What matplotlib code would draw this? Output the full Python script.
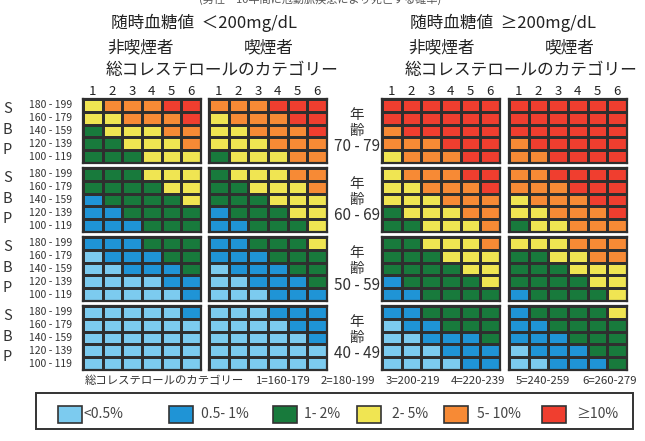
import numpy as np
import matplotlib
matplotlib.use("Agg")
import matplotlib.pyplot as plt
from matplotlib.colors import ListedColormap, BoundaryNorm
from matplotlib.patches import Rectangle

plt.rcParams['font.family'] = ['Noto Sans CJK JP', 'DejaVu Sans']

# ---- data ----
risk_labels = ["<0.5%", "0.5- 1%", "1- 2%", "2- 5%", "5- 10%", "≥10%"]
risk_colors = ["#7ccbef", "#1f94d6", "#187a3c", "#f0e552", "#f78a35", "#f03e2f"]
sbp_labels = ["180 - 199", "160 - 179", "140 - 159", "120 - 139", "100 - 119"]
chol_cats = ["1", "2", "3", "4", "5", "6"]
age_groups = ["70 - 79", "60 - 69", "50 - 59", "40 - 49"]
group_titles = ["非喫煙者", "喫煙者", "非喫煙者", "喫煙者"]
glucose_titles = ["随時血糖値  ＜200mg/dL", "随時血糖値  ≥200mg/dL"]
note_parts = ["総コレステロールのカテゴリー", "1=160-179", "2=180-199", "3=200-219",
              "4=220-239", "5=240-259", "6=260-279"]

# risk category codes (0..5), rows SBP 180-199 .. 100-119, cols chol 1..6
age70_ns_low = [[3,4,4,4,5,5],[3,3,4,4,4,5],[2,3,3,3,4,4],[2,2,3,3,3,4],[2,2,2,3,3,3]]
age70_s_low  = [[4,4,4,5,5,5],[3,4,4,4,5,5],[3,3,4,4,4,5],[3,3,3,4,4,4],[2,3,3,3,4,4]]
age70_ns_hi  = [[5,5,5,5,5,5],[5,5,5,5,5,5],[4,5,5,5,5,5],[4,4,4,5,5,5],[3,4,4,4,5,5]]
age70_s_hi   = [[5,5,5,5,5,5],[5,5,5,5,5,5],[5,5,5,5,5,5],[4,5,5,5,5,5],[4,4,5,5,5,5]]

age60_ns_low = [[2,2,2,3,3,3],[2,2,2,2,3,3],[1,2,2,2,2,3],[1,1,2,2,2,2],[1,1,1,2,2,2]]
age60_s_low  = [[2,3,3,3,4,4],[2,2,3,3,3,4],[2,2,2,3,3,3],[1,2,2,2,3,3],[1,1,2,2,2,3]]
age60_ns_hi  = [[3,4,4,4,5,5],[3,3,4,4,4,5],[3,3,3,4,4,4],[2,3,3,3,4,4],[2,2,3,3,3,4]]
age60_s_hi   = [[4,4,5,5,5,5],[4,4,4,5,5,5],[3,4,4,4,5,5],[3,3,4,4,4,5],[2,3,3,4,4,4]]

age50_ns_low = [[1,1,1,2,2,2],[0,1,1,1,2,2],[0,0,1,1,1,2],[0,0,0,0,1,1],[0,0,0,0,0,1]]
age50_s_low  = [[1,1,2,2,2,3],[1,1,1,2,2,2],[0,1,1,1,2,2],[0,0,1,1,1,2],[0,0,0,1,1,1]]
age50_ns_hi  = [[2,2,3,3,3,4],[2,2,2,3,3,3],[2,2,2,2,3,3],[1,2,2,2,2,3],[1,1,2,2,2,2]]
age50_s_hi   = [[3,3,3,4,4,4],[2,2,3,3,4,4],[2,2,2,3,3,3],[2,2,2,2,3,3],[1,2,2,2,2,3]]

age40_ns_low = [[0,0,0,0,0,1],[0,0,0,0,0,0],[0,0,0,0,0,0],[0,0,0,0,0,0],[0,0,0,0,0,0]]
age40_s_low  = [[0,0,0,1,1,1],[0,0,0,0,1,1],[0,0,0,0,0,1],[0,0,0,0,0,0],[0,0,0,0,0,0]]
age40_ns_hi  = [[1,1,2,2,2,2],[0,1,1,2,2,2],[0,0,1,1,1,2],[0,0,0,1,1,1],[0,0,0,0,1,1]]
age40_s_hi   = [[1,2,2,2,2,3],[1,1,2,2,2,2],[1,1,1,2,2,2],[0,1,1,1,2,2],[0,0,1,1,1,2]]

blocks = [
    [age70_ns_low, age70_s_low, age70_ns_hi, age70_s_hi],
    [age60_ns_low, age60_s_low, age60_ns_hi, age60_s_hi],
    [age50_ns_low, age50_s_low, age50_ns_hi, age50_s_hi],
    [age40_ns_low, age40_s_low, age40_ns_hi, age40_s_hi],
]

# ---- layout (pixels) ----
W, H = 645, 441
fig = plt.figure(figsize=(W / 100, H / 100), dpi=100)

def fx(x):
    return x / W

def fy(y):
    return 1 - y / H

col_x0 = [83, 209, 382, 509]
blk_w = 118
row_y0 = [99, 168, 237, 306]
blk_h = 64

cmap = ListedColormap(risk_colors)
norm = BoundaryNorm(np.arange(-0.5, 6.5, 1), cmap.N)
edge = "#2f2f2f"
txt = "#333333"

for r, row in enumerate(blocks):
    for c, grid in enumerate(row):
        x0, y0 = col_x0[c], row_y0[r]
        ax = fig.add_axes([fx(x0), fy(y0 + blk_h), blk_w / W, blk_h / H])
        arr = np.array(grid)
        ax.pcolormesh(np.arange(7), np.arange(6), arr, cmap=cmap, norm=norm,
                      edgecolors=edge, linewidth=1.0)
        ax.set_xlim(0, 6)
        ax.set_ylim(5, 0)
        ax.set_xticks([])
        ax.set_yticks([])
        for s in ax.spines.values():
            s.set_linewidth(1.6)
            s.set_edgecolor(edge)
        if r == 0:
            for k, lab in enumerate(chol_cats):
                ax.text(k + 0.5, -0.55, lab, ha='center', va='center',
                        fontsize=9.5, color='#222', clip_on=False)
        if c == 0:
            for k, lab in enumerate(sbp_labels):
                ax.text(-0.55, k + 0.5, lab, ha='right', va='center',
                        fontsize=7.5, color=txt, clip_on=False)
            for k, ch in enumerate("SBP"):
                ax.text(-3.85, [0.8, 2.45, 3.95][k], ch, ha='center', va='center',
                        fontsize=10.5, color=txt, clip_on=False)
    # age labels
    cy = row_y0[r]
    fig.text(fx(357), fy(cy + 16), "年", ha='center', va='center', fontsize=10.5, color=txt)
    fig.text(fx(357), fy(cy + 32), "齢", ha='center', va='center', fontsize=10.5, color=txt)
    fig.text(fx(357), fy(cy + 48), age_groups[r], ha='center', va='center', fontsize=11, color=txt)

# header texts
fig.text(fx(320), fy(-1), "(男性・10年間に冠動脈疾患により死亡する確率)", ha='center', va='center',
         fontsize=8, color='#555')
fig.text(fx(204), fy(23), glucose_titles[0], ha='center', va='center', fontsize=12, color='#222')
fig.text(fx(503), fy(23), glucose_titles[1], ha='center', va='center', fontsize=12, color='#222')
for cx, t in zip([141, 269, 442, 570], group_titles):
    fig.text(fx(cx), fy(48), t, ha='center', va='center', fontsize=12, color='#222')
fig.text(fx(222), fy(71), "総コレステロールのカテゴリー", ha='center', va='center', fontsize=12, color='#222')
fig.text(fx(521), fy(71), "総コレステロールのカテゴリー", ha='center', va='center', fontsize=12, color='#222')

# bottom note
for nx, part in zip([85, 256, 321, 386, 451, 516, 582], note_parts):
    fig.text(fx(nx), fy(381), part, ha='left', va='center', fontsize=8.2, color=txt)

# legend
fig.patches.append(Rectangle((fx(36), fy(429)), (633 - 36) / W, (429 - 393) / H,
                             transform=fig.transFigure, facecolor='white',
                             edgecolor='#333', linewidth=1.4))
patch_x = [58, 169, 273, 357, 444, 542]
text_x = [83, 201, 304, 392, 477, 576]
for px, tx, col, lab in zip(patch_x, text_x, risk_colors, risk_labels):
    fig.patches.append(Rectangle((fx(px), fy(423)), 24 / W, 17 / H,
                                 transform=fig.transFigure, facecolor=col,
                                 edgecolor='#333', linewidth=1.2))
    fig.text(fx(tx), fy(414), lab, ha='left', va='center', fontsize=10, color='#444')

fig.savefig("out.png", dpi=100)
